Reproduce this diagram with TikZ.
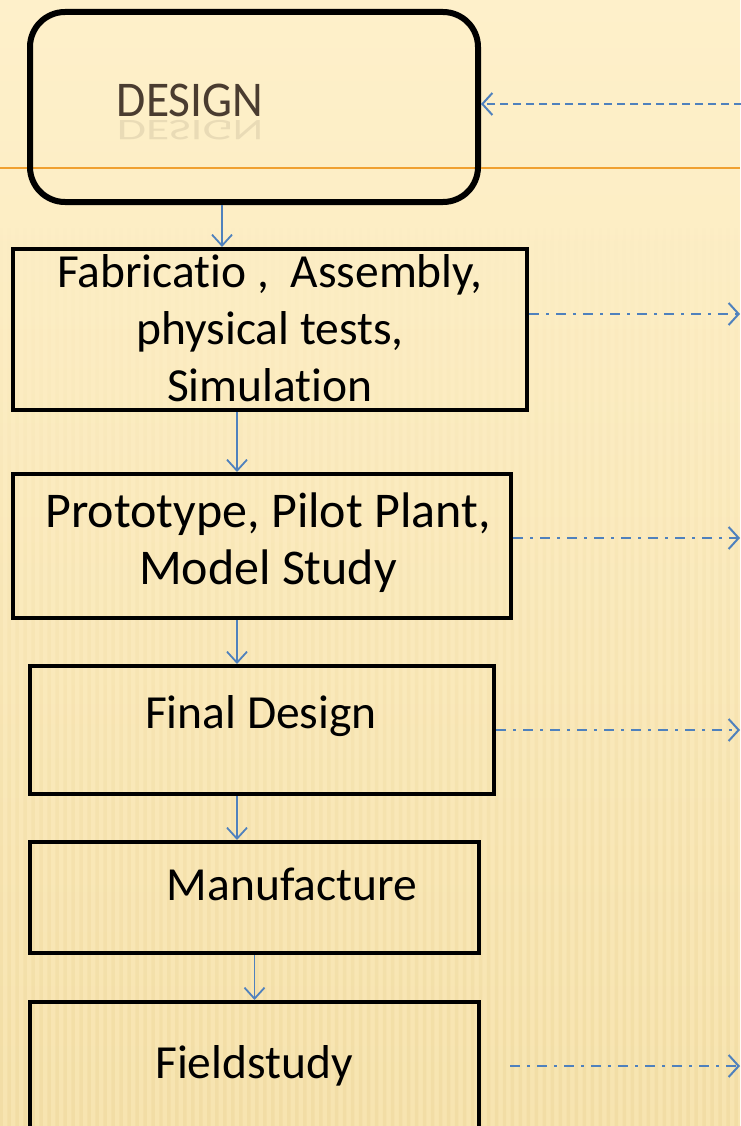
\documentclass[tikz,border=0pt]{standalone}
\usepackage{fontspec}
\setmainfont{Carlito}[Ligatures=NoCommon]
\usetikzlibrary{arrows.meta,fadings}
\definecolor{bgtop}{HTML}{FEF0CA}
\definecolor{bgbot}{HTML}{F7E4B0}
\definecolor{stripe}{HTML}{E6CC88}
\definecolor{flowblue}{HTML}{4F81BD}
\definecolor{rule}{HTML}{F0A030}
\definecolor{designtxt}{HTML}{4A3C30}
\tikzfading[name=stripefade, top color=transparent!100, bottom color=transparent!40]
\begin{document}
\begin{tikzpicture}[x=1pt,y=-1pt,
  box/.style={draw=black, line width=4pt, fill=none, inner sep=0pt},
  lbl/.style={font=\fontsize{47.5}{57}\selectfont, align=center, inner sep=0pt},
  flow/.style={draw=flowblue, line width=1.8pt, -{Straight Barb[length=11pt,width=20pt,line width=1.8pt]}},
  side/.style={draw=flowblue, line width=2.2pt, dash pattern=on 10pt off 7pt on 3pt off 7pt,
    -{Straight Barb[length=10pt,width=22pt,line width=2pt]}},
  back/.style={draw=flowblue, line width=2.2pt, dash pattern=on 8pt off 5pt,
    -{Straight Barb[length=10pt,width=22pt,line width=2pt]}}]
\useasboundingbox (0,0) rectangle (740,1126);
% background
\shade[top color=bgtop, bottom color=bgbot] (0,0) rectangle (740,1126);
\begin{scope}
\fill[stripe, opacity=0.45, path fading=stripefade]
  \foreach \i in {0,...,92} { (\i*8,220) rectangle (\i*8+3.5,1126) };
\end{scope}
% orange rule
\draw[rule, line width=2.5pt] (0,168) -- (740,168);
% nodes
\node[draw=black, line width=6pt, rounded corners=35pt, minimum width=448pt, minimum height=190pt] (design) at (254,107) {};
\node[text=designtxt, xscale=0.95, font=\fontsize{50}{50}\selectfont, anchor=base] (designlbl) at (190,117) {DESIGN};
\node[text=designtxt, opacity=0.11, xscale=0.95, yscale=-0.6, font=\fontsize{50}{50}\selectfont, anchor=base] (designrefl) at (190,121) {DESIGN};
\node[box, minimum width=514pt, minimum height=161pt] (fab) at (270,329.5) {};
\node[lbl] (fabtxt) at (270,328) {Fabricatio ,\ \ Assembly,\\physical tests,\\Simulation};
\node[box, minimum width=498pt, minimum height=144pt] (proto) at (262,546) {};
\node[lbl, font=\fontsize{50}{57}\selectfont] (prototxt) at (268,543) {Prototype, Pilot Plant,\\Model Study};
\node[box, minimum width=464pt, minimum height=128pt] (final) at (262,730) {};
\node[lbl] (finaltxt) at (261,716) {Final Design};
\node[box, minimum width=449pt, minimum height=111pt] (manuf) at (254.5,897.5) {};
\node[lbl] (manuftxt) at (292,884) {Manufacture};
\node[box, minimum width=449pt, minimum height=150pt] (field) at (254.5,1077) {};
\node[lbl] (fieldtxt) at (254,1066) {Fieldstudy};
% vertical flow arrows
\draw[flow] ([xshift=-32pt]design.south) -- ([xshift=-32pt]design.south |- fab.north);
\draw[flow] ([xshift=-33pt]fab.south) -- ([xshift=-33pt]fab.south |- proto.north);
\draw[flow] ([xshift=-25pt]proto.south) -- ([xshift=-25pt]proto.south |- final.north);
\draw[flow] ([xshift=-25pt]final.south) -- ([xshift=-25pt]final.south |- manuf.north);
\draw[flow] (manuf.south) -- (manuf.south |- field.north);
% side arrows
\coordinate (r0) at (742,104);
\coordinate (r1) at (740,314);
\coordinate (r2) at (740,538);
\coordinate (r3) at (740,730);
\coordinate (f0) at (510,1066);
\coordinate (r4) at (740,1066);
\draw[back] (r0) -- (design.east |- r0);
\draw[side] (fab.east |- r1) -- (r1);
\draw[side] (proto.east |- r2) -- (r2);
\draw[side] (final.east |- r3) -- (r3);
\draw[side] (f0) -- (r4);
\end{tikzpicture}
\end{document}
